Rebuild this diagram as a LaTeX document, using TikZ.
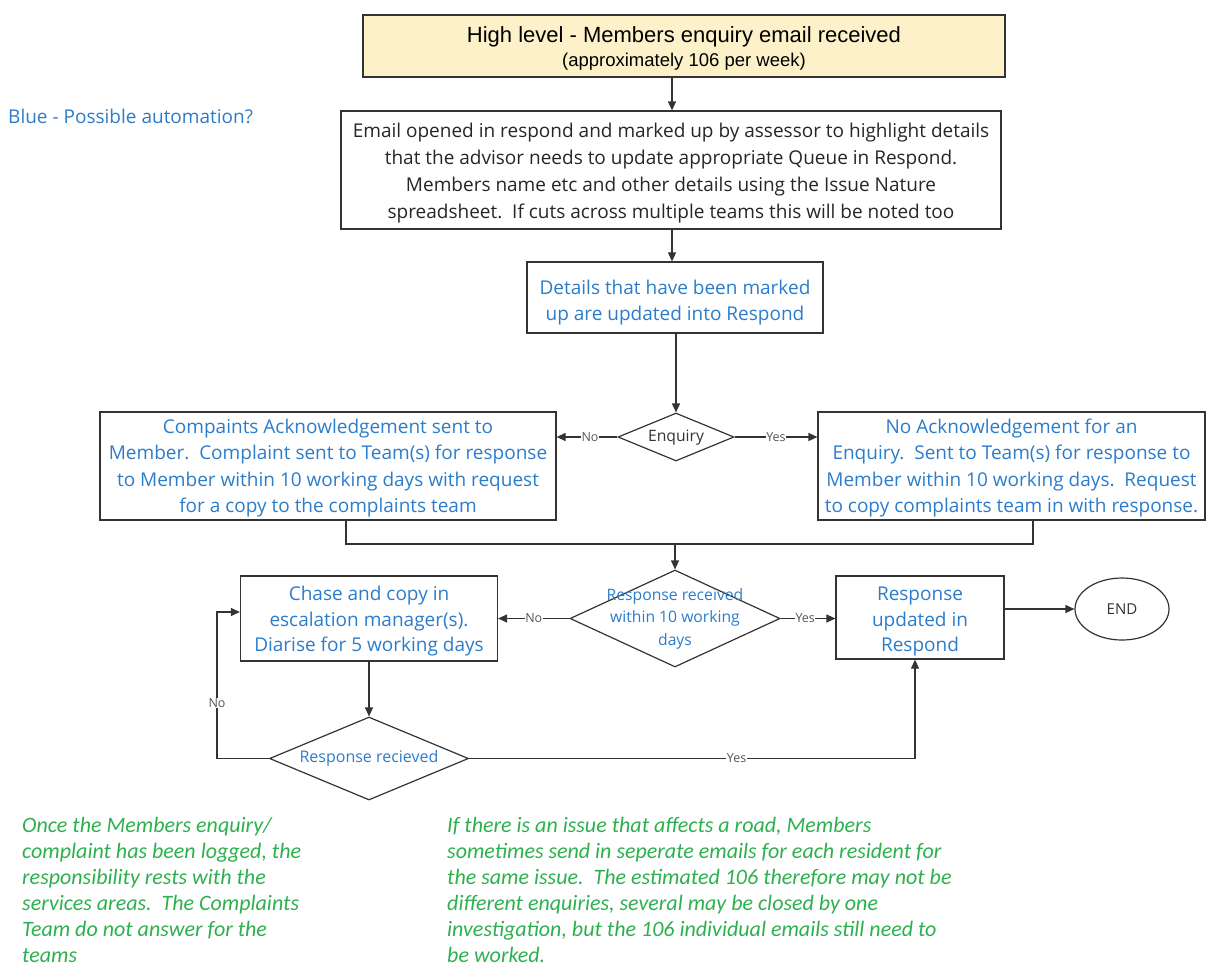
\documentclass[tikz,border=0pt]{standalone}
\usepackage{fontspec}
\usetikzlibrary{shapes.geometric,arrows.meta}
\newfontfamily\segf{Open Sans}
\newfontfamily\carl{Carlito}
\newfontfamily\arif{Liberation Sans}
\definecolor{bluetxt}{HTML}{2B7CCB}
\definecolor{greentxt}{HTML}{2DB04E}
\definecolor{linec}{HTML}{333333}
\definecolor{yellowfill}{HTML}{FDF1C9}
\definecolor{lblc}{HTML}{555555}
\tikzset{
  box/.style={draw=linec, line width=1.2pt, rectangle, inner sep=0pt},
  dia/.style={draw=linec, line width=1.2pt, diamond, inner sep=0pt},
  conn/.style={draw=linec, line width=1.2pt, -{Triangle[length=9pt,width=8pt]}},
  plain/.style={draw=linec, line width=1.2pt},
  lbl/.style={fill=white, inner sep=0.5pt, text=lblc, font=\segf\fontsize{12.5}{14}\selectfont},
  bluef/.style={text=bluetxt, align=center, inner sep=0pt, yshift=-3.5pt, font=\segf\fontsize{19}{26.4}\selectfont},
  blackf/.style={text=black!85, align=center, inner sep=0pt, yshift=-3.5pt, font=\segf\fontsize{19}{27}\selectfont},
  greenf/.style={text=greentxt, font=\carl\itshape\fontsize{22}{26.1}\selectfont, align=left, anchor=north west, inner sep=0pt},
}
\begin{document}
\begin{tikzpicture}[x=1pt,y=-1pt]
\useasboundingbox (0,0) rectangle (1206,967);

\node[box, fill=yellowfill, minimum width=642, minimum height=62,
  label={[align=center, inner sep=0pt, yshift=-2.5pt]center:{{\arif\fontsize{22}{24}\selectfont High level - Members enquiry email received}\\[5pt]
   {\arif\fontsize{18.5}{18}\selectfont (approximately 106 per week)}}}] (top) at (684,46) {};

\node[box, minimum width=660, minimum height=118,
  label={[blackf]center:{Email opened in respond and marked up by assessor to highlight details\\
   that the advisor needs to update appropriate Queue in Respond.\\
   Members name etc and other details using the Issue Nature\\
   spreadsheet.\ \ If cuts across multiple teams this will be noted too}}] (b2) at (671,170) {};

\node[box, minimum width=296, minimum height=71,
  label={[bluef, yshift=-1.5pt]center:{Details that have been marked\\up are updated into Respond}}] (b3) at (675,297.5) {};

\node[dia, minimum width=116, minimum height=48,
  label={[text=black!80, font=\segf\fontsize{15.7}{16}\selectfont, yshift=-1pt]center:Enquiry}] (enq) at (676,437) {};

\node[box, minimum width=456, minimum height=108,
  label={[bluef, yshift=1.5pt]center:{Compaints Acknowledgement sent to\\
   Member.\ \ Complaint sent to Team(s) for response\\
   to Member within 10 working days with request\\
   for a copy to the complaints team}}] (L) at (328,466) {};

\node[box, minimum width=387, minimum height=108,
  label={[bluef, yshift=1.5pt]center:{No Acknowledgement for an\\
   Enquiry.\ \ Sent to Team(s) for response to\\
   Member within 10 working days.\ \ Request\\
   to copy complaints team in with response.}}] (R) at (1011.5,466) {};

\node[dia, minimum width=210, minimum height=97,
  label={[text=bluetxt, align=center, font=\segf\fontsize{15.7}{22.5}\selectfont]center:{Response received\\within 10 working\\days}}] (d2) at (675,618.5) {};

\node[box, minimum width=257, minimum height=85,
  label={[bluef, font=\segf\fontsize{19}{25.5}\selectfont, yshift=0.5pt]center:{Chase and copy in\\escalation manager(s).\\Diarise for 5 working days}}] (chase) at (369,618.5) {};

\node[box, minimum width=168, minimum height=83,
  label={[bluef, font=\segf\fontsize{19}{25.5}\selectfont, yshift=-0.5pt]center:{Response\\updated in\\Respond}}] (resp) at (920,617.5) {};

\node[draw=linec, line width=1.2pt, ellipse, minimum width=94, minimum height=62, inner sep=0pt,
  font=\segf\fontsize{15}{17}\selectfont, text=black!80] (end) at (1122,609) {END};

\node[dia, minimum width=199, minimum height=83,
  label={[text=bluetxt, font=\segf\fontsize{16}{18}\selectfont]center:Response recieved}] (d3) at (369,758.5) {};

\node[anchor=west, inner sep=0pt, text=bluetxt, font=\segf\fontsize{19}{22}\selectfont] (auto) at (8,116)
  {Blue - Possible automation?};

\node[greenf] (g1) at (22,817)
  {Once the Members enquiry/\\
   complaint has been logged, the\\
   responsibility rests with the\\
   services areas.\ \ The Complaints\\
   Team do not answer for the\\
   teams};

\node[greenf] (g2) at (447,817)
  {If there is an issue that affects a road, Members\\
   sometimes send in seperate emails for each resident for\\
   the same issue.\ \ The estimated 106 therefore may not be\\
   different enquiries, several may be closed by one\\
   investigation, but the 106 individual emails still need to\\
   be worked.};

% connectors
\draw[conn] (top.south -| 672,0) coordinate (t1) -- (t1 |- b2.north);
\draw[conn] (b2.south -| 672,0) coordinate (t2) -- (t2 |- b3.north);
\draw[conn] (b3.south -| enq.north) -- (enq.north);
\draw[conn] (enq.west) -- node[lbl, pos=0.45]{No} (L.east |- enq.west);
\draw[conn] (enq.east) -- node[lbl, pos=0.5]{Yes} (R.west |- enq.east);

\coordinate (mL) at (346,544);
\coordinate (mR) at (1033,544);
\draw[plain] (L.south -| mL) -- (mL) -- (mR) -- (R.south -| mR);
\draw[conn] (mL -| d2.north) -- (d2.north);

\draw[conn] (d2.west) -- node[lbl, pos=0.5]{No} (chase.east |- d2.west);
\draw[conn] (d2.east) -- node[lbl, pos=0.45]{Yes} (resp.west |- d2.east);
\draw[conn] (resp.east |- end.west) -- (end.west);
\draw[conn] (chase.south) -- (d3.north);

\coordinate (nL) at (217,758.5);
\draw[conn] (d3.west) -- (nL) -- node[lbl, pos=0.38]{No} (nL |- 0,612) -- (chase.west |- 0,612);
\coordinate (yR) at (915,758.5);
\draw[conn] (d3.east) -- node[lbl, pos=0.6]{Yes} (yR) -- (yR |- resp.south);

\end{tikzpicture}
\end{document}
